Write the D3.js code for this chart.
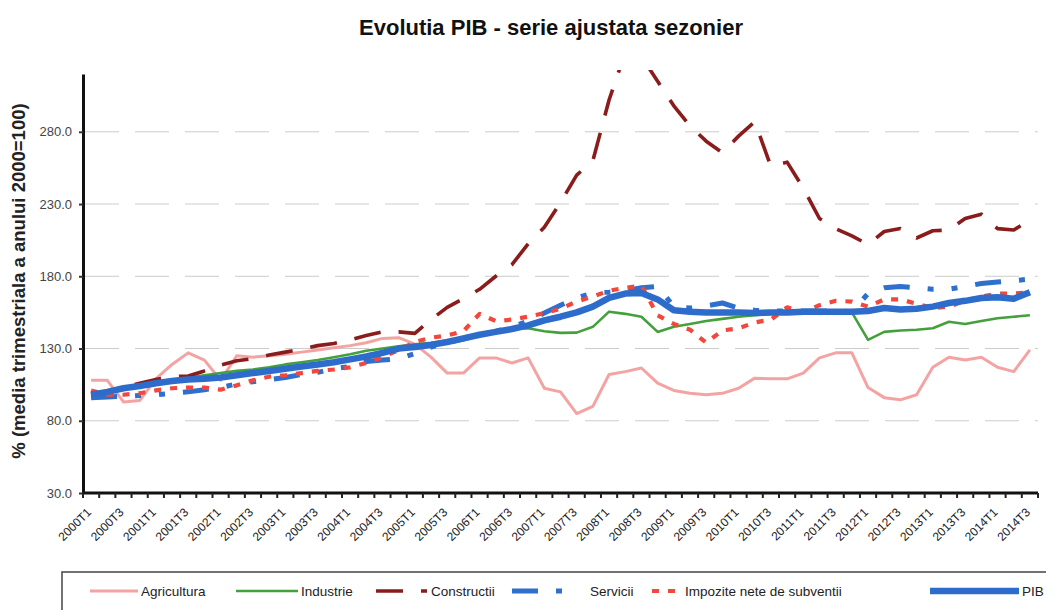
<!DOCTYPE html>
<html>
<head>
<meta charset="utf-8">
<script src="https://cdn.jsdelivr.net/npm/d3@7"></script>
<style>
  html, body { margin: 0; padding: 0; background: #fff; }
  svg { display: block; font-family: "Liberation Sans", Arial, sans-serif; }
</style>
</head>
<body>
<svg id="chart" width="1046" height="610"></svg>
<script>
// quarters 2000T1 .. 2014T3
const quarters = d3.range(2000, 2015)
  .flatMap(yr => [1, 2, 3, 4].map(q => `${yr}T${q}`))
  .slice(0, 59);
const tickLabels = quarters.filter((d, i) => i % 2 === 0);
const yTicks = [30, 80, 130, 180, 230, 280];
const gridValues = [80, 130, 180, 230, 280];

const agricultura = [108, 108, 93, 94, 109, 119, 127, 122, 108, 125, 124, 125, 126, 127.5, 129, 130.5, 132, 134, 137, 137.5,
  133, 124, 113, 113, 123.5, 123.5, 120, 123.5, 102.5, 100, 85, 90, 112, 114, 116.5, 106, 101, 99, 98, 99,
  102.5, 109.5, 109, 109, 113, 123.5, 127, 127, 103, 96, 94.5, 98, 117, 124, 122, 124, 117, 114, 129];
const industrie = [97, 99.5, 102.5, 104.5, 106.5, 108.5, 110, 111.5, 113, 114.5, 115.5, 117, 119, 120.5, 122, 124, 126, 128.5, 130, 131.5,
  133, 134, 135.5, 137.5, 139.5, 141.5, 143.5, 144, 142, 140.8, 141, 145, 155.5, 154, 152, 141.5, 145, 147, 149, 150.5,
  152, 153, 154, 154.5, 155, 155, 155, 155, 136, 141.5, 142.5, 143, 144, 148.5, 147, 149, 151, 152, 153];
const constructii = [97.5, 100, 103, 106, 108.5, 110.5, 111, 114.5, 118.5, 121.5, 123, 125.5, 127.5, 129.5, 132, 133.5, 136, 139, 141.5, 141.5,
  140.5, 150, 158.5, 164.5, 171, 180, 188, 202.5, 214, 231, 250, 260, 302, 335, 332, 315, 298, 284, 273.5, 265.5,
  277, 287, 256, 259, 241, 220, 213, 208, 202, 211, 213, 206.5, 211.5, 212, 220, 223, 213, 212, 219];
const servicii = [96, 96.5, 97, 97.5, 98, 99, 100, 101.5, 103, 105.5, 107, 108.5, 110, 112, 113.5, 116, 117.5, 121, 122, 123,
  126.5, 131, 134, 136.5, 139.5, 142, 145, 149, 154.5, 160, 165, 168.5, 169, 170, 172, 173, 159, 158, 159.5, 161.5,
  158, 156.5, 156, 156, 156, 156, 156, 155.5, 168, 172, 173, 172, 171, 171, 173, 175, 176, 177, 178];
const impozite = [101, 98, 98, 99, 101, 102.5, 103, 103, 101.5, 104.5, 108, 110.5, 111.5, 113, 114.5, 115.5, 117, 120, 124, 129,
  134.5, 137.5, 139, 142, 154, 149, 150, 152, 154.5, 157.5, 162.5, 166, 170, 172, 173.5, 153, 147, 143, 134, 142.5,
  144, 148, 150, 158.5, 155, 160, 163, 162.5, 159, 164, 164, 161, 158, 159, 163, 166, 168, 168, 169];
const pib = [98, 100, 102.5, 104, 106, 107.5, 108.5, 109, 110, 111.5, 113, 114.5, 116, 117.5, 119, 120.5, 122.5, 124.5, 127, 130,
  131, 132.5, 134.5, 137, 139.5, 141.5, 143.5, 146, 149.5, 152, 155, 159, 165, 168, 168.5, 164, 156.5, 155.5, 155, 155,
  155, 154.5, 155, 155, 155.5, 155.5, 155.5, 155.5, 156, 158, 157, 157.5, 159, 161.5, 163, 165, 165.5, 164.5, 169];

const series = [
  { name: "Agricultura", values: agricultura, color: "#f4a3a3", width: 3, dash: null },
  { name: "Industrie", values: industrie, color: "#44a03a", width: 2.6, dash: null },
  { name: "Constructii", values: constructii, color: "#8a1c1c", width: 3.6, dash: "27,18" },
  { name: "Servicii", values: servicii, color: "#2f6fce", width: 5, dash: "26,18,6,18,6,18" },
  { name: "Impozite nete de subventii", values: impozite, color: "#f2473c", width: 4.2, dash: "7,9" },
  { name: "PIB", values: pib, color: "#2d6cca", width: 6.5, dash: null },
];

const plot = { left: 83, right: 1038, top: 74, bottom: 493 };
const svg = d3.select("#chart");

svg.append("rect").attr("width", 1046).attr("height", 610).attr("fill", "#fff");

const x = d3.scaleBand().domain(quarters).range([plot.left, plot.right]);
const y = d3.scaleLinear().domain([30, 320]).range([plot.bottom, plot.top]);
const cx = d => x(d) + x.bandwidth() / 2;

// title
svg.append("text")
  .attr("x", 551).attr("y", 35)
  .attr("text-anchor", "middle")
  .attr("font-size", 22).attr("font-weight", "bold").attr("fill", "#111")
  .text("Evolutia PIB - serie ajustata sezonier");

// y label
svg.append("text")
  .attr("transform", "translate(25,281) rotate(-90)")
  .attr("text-anchor", "middle")
  .attr("font-size", 18.5).attr("font-weight", "bold").attr("fill", "#222")
  .text("% (media trimestriala a anului 2000=100)");

// gridlines
svg.append("g").selectAll("line").data(gridValues).join("line")
  .attr("x1", plot.left + 2).attr("x2", plot.right)
  .attr("y1", d => y(d)).attr("y2", d => y(d))
  .attr("stroke", "#cccccc").attr("stroke-width", 1)
  .attr("stroke-dasharray", "34,16");

// y axis
const yAxis = svg.append("g")
  .attr("transform", `translate(${plot.left},0)`)
  .call(d3.axisLeft(y).tickValues(yTicks).tickFormat(d3.format(".1f")).tickSize(4).tickSizeOuter(0));
yAxis.select(".domain").attr("stroke", "#111").attr("stroke-width", 3);
yAxis.selectAll(".tick line").attr("stroke", "#333").attr("stroke-width", 2);
yAxis.selectAll(".tick text")
  .attr("font-family", "Liberation Sans, Arial, sans-serif")
  .attr("font-size", 13).attr("fill", "#444").attr("x", -11);

// x axis
const xAxis = svg.append("g");
xAxis.append("line")
  .attr("x1", plot.left).attr("x2", plot.right)
  .attr("y1", plot.bottom).attr("y2", plot.bottom)
  .attr("stroke", "#111").attr("stroke-width", 3);
xAxis.selectAll("line.tk").data(quarters.concat(["end"])).join("line")
  .attr("class", "tk")
  .attr("x1", d => d === "end" ? plot.right : x(d))
  .attr("x2", d => d === "end" ? plot.right : x(d))
  .attr("y1", plot.bottom).attr("y2", plot.bottom + 5)
  .attr("stroke", "#222").attr("stroke-width", 2);
xAxis.selectAll("text").data(tickLabels).join("text")
  .attr("transform", d => `translate(${cx(d) + 1},${plot.bottom + 20}) rotate(-45)`)
  .attr("text-anchor", "end")
  .attr("font-size", 12).attr("fill", "#222")
  .text(d => d);

// clip for lines
svg.append("clipPath").attr("id", "plotclip")
  .append("rect").attr("x", plot.left).attr("y", plot.top - 4)
  .attr("width", plot.right - plot.left + 10).attr("height", plot.bottom - plot.top + 4);

const line = d3.line().x((d, i) => cx(quarters[i])).y(d => y(d));
const lines = svg.append("g").attr("clip-path", "url(#plotclip)");
series.forEach(s => {
  lines.append("path")
    .datum(s.values)
    .attr("d", line)
    .attr("fill", "none")
    .attr("stroke", s.color)
    .attr("stroke-width", s.width)
    .attr("stroke-linejoin", "round")
    .attr("stroke-dasharray", s.dash);
});

// legend
const legendPos = [
  { x1: 90, x2: 138, tx: 141 },
  { x1: 236, x2: 298, tx: 301 },
  { x1: 376, x2: 427, tx: 431 },
  { x1: 512, x2: 580, tx: 590 },
  { x1: 652, x2: 680, tx: 685 },
  { x1: 930, x2: 1019, tx: 1022 },
];
const legend = svg.append("g");
legend.append("rect")
  .attr("x", 62).attr("y", 572).attr("width", 1010).attr("height", 60)
  .attr("fill", "none").attr("stroke", "#444").attr("stroke-width", 1.5);
series.forEach((s, i) => {
  const p = legendPos[i];
  legend.append("line")
    .attr("x1", p.x1).attr("x2", p.x2).attr("y1", 591).attr("y2", 591)
    .attr("stroke", s.color).attr("stroke-width", s.width)
    .attr("stroke-dasharray", s.dash);
  legend.append("text")
    .attr("x", p.tx).attr("y", 596)
    .attr("font-size", 13.5).attr("fill", "#222")
    .text(s.name);
});
</script>
</body>
</html>
